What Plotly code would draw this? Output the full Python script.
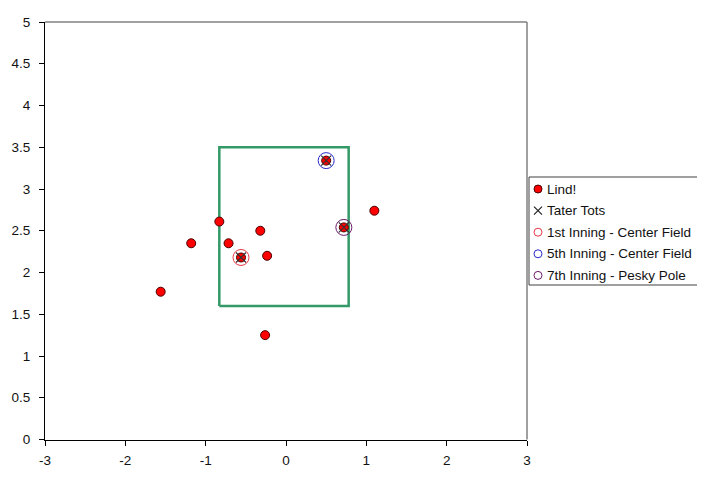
import plotly.graph_objects as go

# Data
lind_x = [-1.56, -1.18, -0.83, -0.715, -0.56, -0.32, -0.235, -0.26, 0.50, 0.72, 1.10]
lind_y = [1.77, 2.35, 2.61, 2.35, 2.18, 2.50, 2.20, 1.25, 3.34, 2.54, 2.74]
tater_x = [-0.56, 0.50, 0.72]
tater_y = [2.18, 3.34, 2.54]
inn1_x = [-0.56]
inn1_y = [2.18]
inn5_x = [0.50]
inn5_y = [3.34]
inn7_x = [0.72]
inn7_y = [2.54]
zone_x = [-0.83, 0.78, 0.78, -0.83, -0.83]
zone_y = [1.6, 1.6, 3.5, 3.5, 1.6]
x_ticks = [-3, -2, -1, 0, 1, 2, 3]
x_tick_text = ["-3", "-2", "-1", "0", "1", "2", "3"]
y_ticks = [0, 0.5, 1, 1.5, 2, 2.5, 3, 3.5, 4, 4.5, 5]
y_tick_text = ["0", "0.5", "1", "1.5", "2", "2.5", "3", "3.5", "4", "4.5", "5"]

# page body has an 8px default margin; size the figure to fit the window
OFF = 8
W, H = 705 - OFF, 479 - OFF
# plot area in window pixels
PL, PR, PT, PB = 45, 527, 22, 439.5

FONT = "Arial, Liberation Sans, sans-serif"
FS = 13.5

series = [
    dict(name="Lind!", x=lind_x, y=lind_y,
         marker=dict(symbol="circle", size=9, color="#ff0000",
                     line=dict(color="#4a0000", width=1)),
         lmarker=dict(symbol="circle", size=8, color="#ff0000",
                      line=dict(color="#4a0000", width=1))),
    dict(name="Tater Tots", x=tater_x, y=tater_y,
         marker=dict(symbol="x-thin", size=10, line=dict(color="#333333", width=1.2)),
         lmarker=dict(symbol="x-thin", size=8, line=dict(color="#222222", width=1.2))),
    dict(name="1st Inning - Center Field", x=inn1_x, y=inn1_y,
         marker=dict(symbol="circle-open", size=16, color="#e8384a",
                     line=dict(color="#e8384a", width=1)),
         lmarker=dict(symbol="circle-open", size=8, color="#e8384a",
                      line=dict(color="#e8384a", width=1))),
    dict(name="5th Inning - Center Field", x=inn5_x, y=inn5_y,
         marker=dict(symbol="circle-open", size=16, color="#2a2acc",
                     line=dict(color="#2a2acc", width=1)),
         lmarker=dict(symbol="circle-open", size=8, color="#2a2acc",
                      line=dict(color="#2a2acc", width=1))),
    dict(name="7th Inning - Pesky Pole", x=inn7_x, y=inn7_y,
         marker=dict(symbol="circle-open", size=16, color="#6a1a6a",
                     line=dict(color="#6a1a6a", width=1)),
         lmarker=dict(symbol="circle-open", size=8, color="#6a1a6a",
                      line=dict(color="#6a1a6a", width=1))),
]

fig = go.Figure()
fig.add_trace(go.Scatter(x=zone_x, y=zone_y, mode="lines",
                         line=dict(color="#339966", width=2.5),
                         showlegend=False, hoverinfo="skip"))
for s in series:
    fig.add_trace(go.Scatter(x=s["x"], y=s["y"], mode="markers", name=s["name"],
                             marker=s["marker"], showlegend=False))

# custom legend (overlay axes in window-pixel coordinates)
LEG_L, LEG_R, LEG_T, LEG_B = 529, 699, 177, 285
row0, row_h = 189, 21.6
mark_x, text_x = 538, 545
annotations = []
for i, s in enumerate(series):
    yy = row0 + i * row_h
    fig.add_trace(go.Scatter(x=[mark_x], y=[yy], mode="markers", marker=s["lmarker"],
                             xaxis="x2", yaxis="y2", showlegend=False, hoverinfo="skip"))
    annotations.append(dict(x=text_x, y=yy, xref="x2", yref="y2", text=s["name"],
                            showarrow=False, xanchor="left", yanchor="middle",
                            font=dict(family=FONT, size=FS, color="#111111")))

fig.update_layout(
    width=W, height=H,
    margin=dict(l=0, r=0, t=0, b=0),
    paper_bgcolor="white", plot_bgcolor="rgba(0,0,0,0)",
    font=dict(family=FONT, size=FS, color="#111111"),
    showlegend=False,
    xaxis=dict(domain=[(PL - OFF) / W, (PR - OFF) / W], range=[-3, 3],
               tickvals=x_ticks, ticktext=x_tick_text,
               showgrid=False, zeroline=False, showline=True, linecolor="black",
               linewidth=1, ticks="outside", ticklen=5, tickcolor="black",
               automargin=False, ticklabelstandoff=3, anchor="y"),
    yaxis=dict(domain=[1 - (PB - OFF) / H, 1 - (PT - OFF) / H], range=[0, 5],
               tickvals=y_ticks, ticktext=y_tick_text,
               showgrid=False, zeroline=False, showline=True, linecolor="black",
               linewidth=1, ticks="outside", ticklen=5, tickcolor="black",
               automargin=False, ticklabelstandoff=6, anchor="x"),
    xaxis2=dict(domain=[0, 1], range=[OFF, OFF + W], visible=False, anchor="y2",
                fixedrange=True),
    yaxis2=dict(domain=[0, 1], range=[OFF + H, OFF], visible=False, anchor="x2",
                fixedrange=True),
    annotations=annotations,
    shapes=[
        dict(type="line", xref="x2", yref="y2", x0=PL, x1=PR, y0=PT, y1=PT,
             line=dict(color="#808080", width=1.5), layer="below"),
        dict(type="line", xref="x2", yref="y2", x0=PR, x1=PR, y0=PT, y1=PB,
             line=dict(color="#808080", width=1.5), layer="below"),
        dict(type="rect", xref="x2", yref="y2", x0=LEG_L, x1=LEG_R, y0=LEG_T, y1=LEG_B,
             line=dict(color="#404040", width=1), fillcolor="white", layer="below"),
    ],
)

fig.write_html("out.html")
